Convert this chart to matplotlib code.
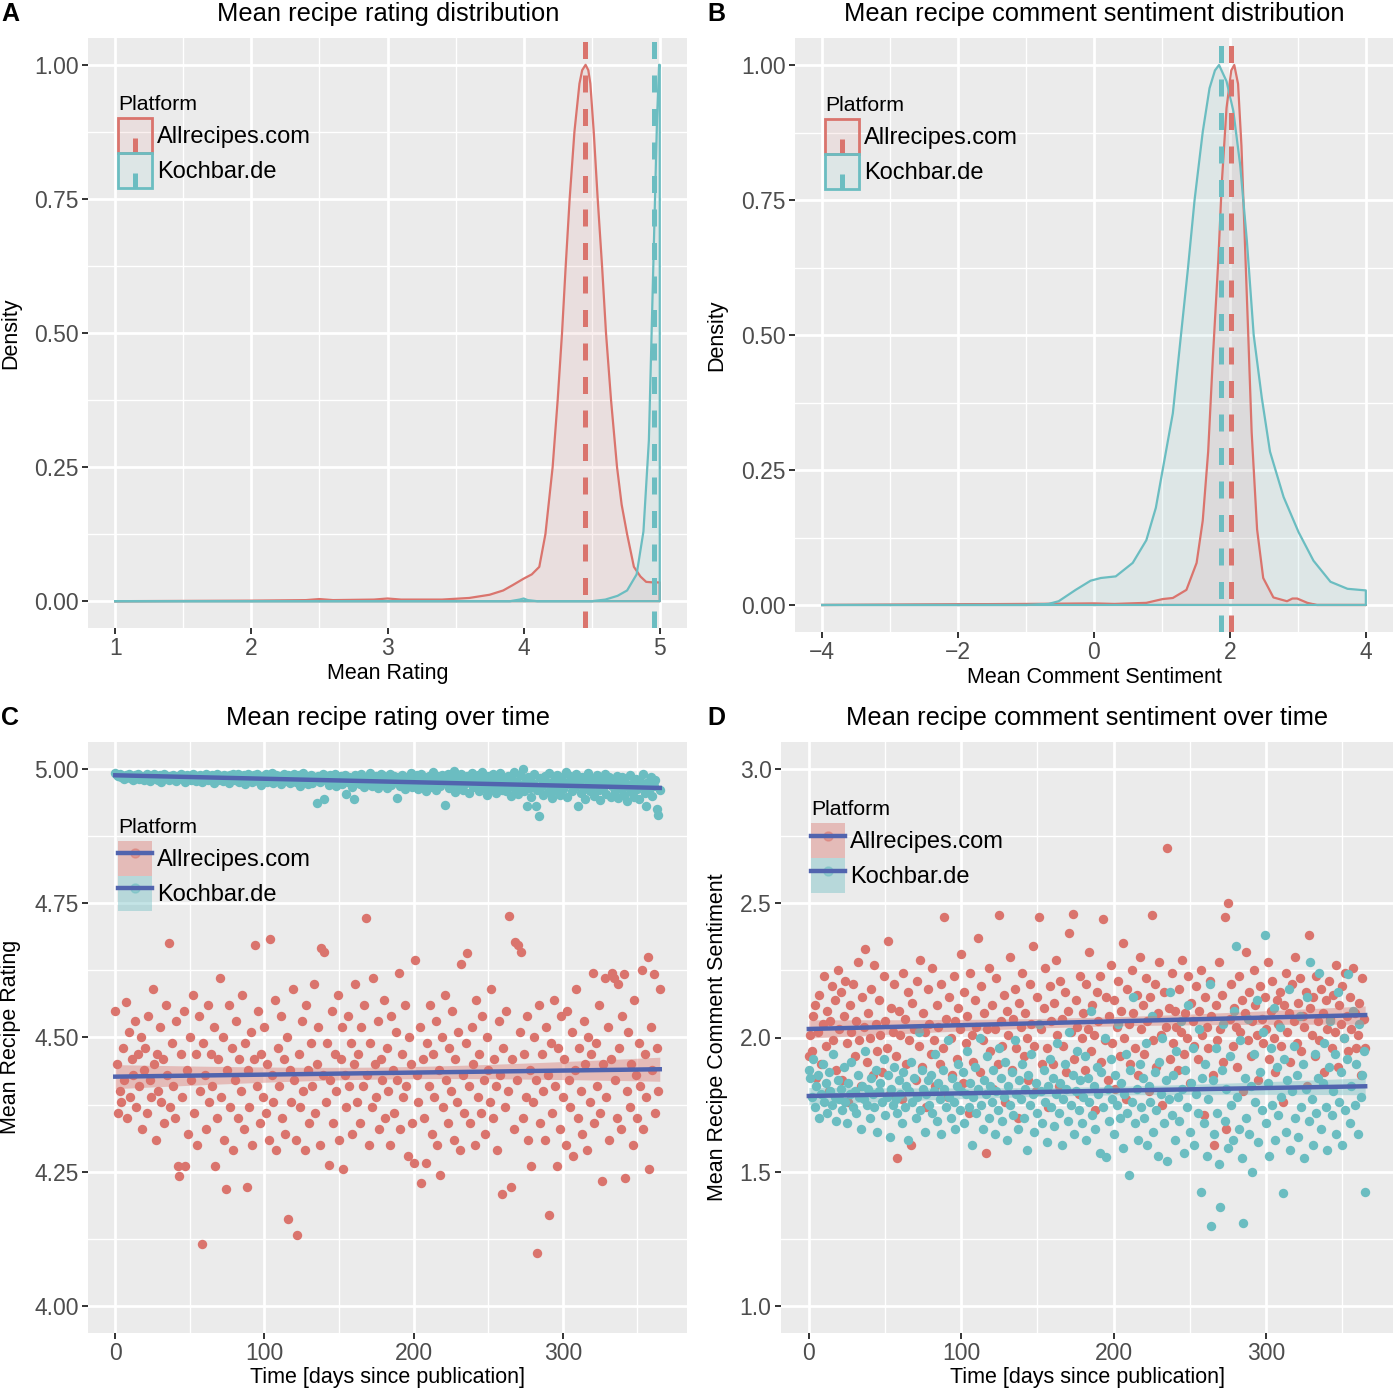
import numpy as np
import matplotlib
matplotlib.use("Agg")
import matplotlib.pyplot as plt
from matplotlib.patches import Patch, Rectangle
from matplotlib.lines import Line2D
from matplotlib.legend_handler import HandlerBase
from matplotlib.ticker import FixedLocator, FormatStrFormatter

plt.rcParams['font.family'] = ['Liberation Sans', 'DejaVu Sans']

platforms = ["Allrecipes.com", "Kochbar.de"]
col_all = "#DA746D"
col_koch = "#6BBDC1"
col_fit = "#5164AE"

# ---- panel A: density of mean rating (scaled) ----
rating_x_all = [1.0, 1.5, 2.0, 2.4, 2.5, 2.6, 2.9, 3.0, 3.1, 3.4, 3.6, 3.75, 3.85, 3.92, 4.0,
                4.06, 4.115, 4.16, 4.213, 4.25, 4.282, 4.309, 4.338, 4.373, 4.41, 4.43, 4.455,
                4.475, 4.49, 4.515, 4.544, 4.576, 4.605, 4.642, 4.686, 4.72, 4.76, 4.81, 4.858,
                4.9, 4.95, 5.0]
rating_y_all = [0.0, 0.0005, 0.001, 0.002, 0.004, 0.002, 0.003, 0.005, 0.003, 0.003, 0.006,
                0.012, 0.02, 0.03, 0.042, 0.05, 0.064, 0.125, 0.25, 0.375, 0.5, 0.625, 0.75,
                0.875, 0.965, 0.99, 1.0, 0.99, 0.965, 0.875, 0.75, 0.625, 0.5, 0.375, 0.25, 0.18,
                0.125, 0.064, 0.046, 0.036, 0.035, 0.035]
rating_x_koch = [1.0, 3.9, 3.97, 4.0, 4.03, 4.1, 4.5, 4.6, 4.69, 4.76, 4.83, 4.88, 4.92, 4.94,
                 4.96, 4.98, 4.995, 5.0]
rating_y_koch = [0.0, 0.0, 0.003, 0.005, 0.002, 0.0, 0.0, 0.003, 0.01, 0.02, 0.05, 0.13, 0.3,
                 0.5, 0.7, 0.9, 1.0, 1.0]
rating_mean = [4.452, 4.960]

# ---- panel B: density of mean comment sentiment (scaled) ----
sent_x_all = [-4.0, -2.5, -1.0, 0.0, 0.3, 0.77, 1.01, 1.16, 1.36, 1.51, 1.6, 1.68, 1.75, 1.83,
              1.88, 1.95, 2.02, 2.064, 2.12, 2.17, 2.22, 2.27, 2.32, 2.4, 2.49, 2.64, 2.84, 2.92,
              2.99, 3.14, 3.28, 4.0]
sent_y_all = [0.0, 0.001, 0.002, 0.003, 0.002, 0.004, 0.011, 0.013, 0.028, 0.078, 0.156, 0.284,
              0.46, 0.64, 0.78, 0.92, 0.99, 1.0, 0.965, 0.85, 0.674, 0.5, 0.32, 0.14, 0.05, 0.014,
              0.007, 0.012, 0.012, 0.004, 0.0, 0.0]
sent_x_koch = [-4.0, -1.0, -0.67, -0.52, -0.27, -0.05, 0.1, 0.32, 0.57, 0.77, 0.91, 1.01, 1.16,
               1.28, 1.38, 1.48, 1.6, 1.7, 1.78, 1.84, 1.95, 2.05, 2.15, 2.25, 2.35, 2.47, 2.59,
               2.79, 3.01, 3.23, 3.48, 3.73, 4.0]
sent_y_koch = [0.0, 0.0, 0.002, 0.007, 0.028, 0.045, 0.05, 0.053, 0.078, 0.12, 0.18, 0.25, 0.355,
               0.5, 0.62, 0.75, 0.876, 0.957, 0.99, 1.0, 0.97, 0.915, 0.816, 0.674, 0.5, 0.383,
               0.284, 0.2, 0.135, 0.082, 0.043, 0.03, 0.027]
sent_mean = [2.015, 1.868]

# ---- panels C / D: per-day means ----
days = list(range(366))

rating_day_koch = [
    4.993, 4.988, 4.986, 4.990, 4.984, 4.987, 4.982, 4.989, 4.985, 4.991, 4.983, 4.986, 4.980, 4.988, 4.984, 4.990, 4.981, 4.987, 4.985, 4.979,
    4.986, 4.990, 4.983, 4.978, 4.987, 4.984, 4.991, 4.982, 4.986, 4.980, 4.988, 4.976, 4.985, 4.990, 4.983, 4.987, 4.979, 4.986, 4.982, 4.989,
    4.984, 4.977, 4.987, 4.983, 4.990, 4.981, 4.985, 4.975, 4.988, 4.983, 4.986, 4.980, 4.991, 4.984, 4.978, 4.987, 4.982, 4.989, 4.976, 4.985,
    4.983, 4.990, 4.979, 4.986, 4.981, 4.988, 4.974, 4.985, 4.991, 4.980, 4.984, 4.987, 4.977, 4.989, 4.982, 4.986, 4.973, 4.988, 4.983, 4.990,
    4.979, 4.985, 4.991, 4.976, 4.987, 4.982, 4.989, 4.972, 4.984, 4.990, 4.980, 4.986, 4.975, 4.988, 4.983, 4.991, 4.978, 4.985, 4.970, 4.987,
    4.982, 4.990, 4.976, 4.986, 4.981, 4.993, 4.974, 4.984, 4.989, 4.979, 4.987, 4.971, 4.985, 4.991, 4.978, 4.983, 4.988, 4.973, 4.986, 4.980,
    4.990, 4.975, 4.984, 4.988, 4.969, 4.982, 4.992, 4.977, 4.986, 4.972, 4.983, 4.989, 4.974, 4.985, 4.980, 4.937, 4.987, 4.976, 4.983, 4.991,
    4.943, 4.979, 4.986, 4.970, 4.988, 4.981, 4.975, 4.990, 4.968, 4.984, 4.978, 4.987, 4.972, 4.982, 4.989, 4.954, 4.976, 4.985, 4.980, 4.966,
    4.944, 4.988, 4.977, 4.983, 4.971, 4.990, 4.979, 4.967, 4.985, 4.981, 4.974, 4.992, 4.969, 4.984, 4.978, 4.987, 4.965, 4.982, 4.990, 4.973,
    4.986, 4.976, 4.964, 4.983, 4.991, 4.970, 4.980, 4.987, 4.975, 4.946, 4.984, 4.968, 4.989, 4.978, 4.962, 4.985, 4.981, 4.972, 4.993, 4.967,
    4.983, 4.976, 4.988, 4.963, 4.980, 4.991, 4.970, 4.985, 4.958, 4.979, 4.987, 4.966, 4.982, 4.994, 4.972, 4.960, 4.986, 4.977, 4.969, 4.989,
    4.975, 4.932, 4.984, 4.991, 4.964, 4.980, 4.971, 4.996, 4.957, 4.985, 4.976, 4.968, 4.990, 4.961, 4.982, 4.973, 4.987, 4.955, 4.979, 4.992,
    4.966, 4.983, 4.970, 4.988, 4.959, 4.977, 4.995, 4.964, 4.981, 4.952, 4.986, 4.972, 4.963, 4.990, 4.978, 4.956, 4.984, 4.969, 4.993, 4.961,
    4.980, 4.974, 4.958, 4.987, 4.967, 4.950, 4.982, 4.994, 4.962, 4.976, 4.954, 4.988, 4.970, 5.000, 4.959, 4.979, 4.930, 4.985, 4.965, 4.948,
    4.973, 4.990, 4.930, 4.961, 4.913, 4.983, 4.968, 4.952, 4.987, 4.975, 4.957, 4.993, 4.966, 4.946, 4.980, 4.960, 4.988, 4.970, 4.951, 4.984,
    4.963, 4.976, 4.994, 4.948, 4.971, 4.986, 4.958, 4.980, 4.966, 4.990, 4.930, 4.973, 4.955, 4.985, 4.962, 4.944, 4.979, 4.992, 4.959, 4.969,
    4.983, 4.950, 4.974, 4.988, 4.961, 4.942, 4.977, 4.965, 4.991, 4.953, 4.972, 4.984, 4.947, 4.968, 4.980, 4.958, 4.987, 4.945, 4.970, 4.962,
    4.985, 4.951, 4.976, 4.940, 4.966, 4.989, 4.957, 4.973, 4.948, 4.982, 4.963, 4.944, 4.978, 4.968, 4.991, 4.955, 4.930, 4.975, 4.961, 4.984,
    4.950, 4.968, 4.979, 4.925, 4.915, 4.960]

rating_day_all = [
    4.550, 4.450, 4.360, 4.400, 4.380, 4.480, 4.420, 4.566, 4.350, 4.510, 4.390, 4.460, 4.430, 4.530, 4.370, 4.470, 4.410, 4.500, 4.330, 4.440,
    4.480, 4.360, 4.540, 4.420, 4.390, 4.590, 4.450, 4.310, 4.470, 4.400, 4.520, 4.380, 4.460, 4.340, 4.560, 4.430, 4.675, 4.370, 4.490, 4.410,
    4.350, 4.530, 4.260, 4.243, 4.470, 4.390, 4.550, 4.261, 4.440, 4.320, 4.500, 4.420, 4.580, 4.360, 4.470, 4.300, 4.540, 4.400, 4.116, 4.490,
    4.430, 4.330, 4.560, 4.380, 4.470, 4.410, 4.520, 4.260, 4.350, 4.460, 4.610, 4.390, 4.500, 4.310, 4.218, 4.440, 4.560, 4.370, 4.480, 4.290,
    4.420, 4.530, 4.350, 4.460, 4.400, 4.580, 4.330, 4.490, 4.221, 4.440, 4.370, 4.510, 4.300, 4.460, 4.673, 4.410, 4.550, 4.340, 4.470, 4.390,
    4.520, 4.360, 4.450, 4.310, 4.684, 4.430, 4.380, 4.570, 4.290, 4.480, 4.410, 4.540, 4.350, 4.460, 4.320, 4.500, 4.162, 4.440, 4.380, 4.590,
    4.420, 4.310, 4.132, 4.470, 4.370, 4.530, 4.400, 4.290, 4.560, 4.440, 4.340, 4.490, 4.410, 4.600, 4.360, 4.450, 4.520, 4.300, 4.667, 4.430,
    4.659, 4.380, 4.490, 4.262, 4.420, 4.550, 4.340, 4.470, 4.400, 4.580, 4.310, 4.460, 4.520, 4.255, 4.430, 4.370, 4.540, 4.410, 4.490, 4.320,
    4.450, 4.600, 4.380, 4.470, 4.340, 4.520, 4.410, 4.560, 4.722, 4.430, 4.300, 4.490, 4.370, 4.610, 4.450, 4.390, 4.530, 4.330, 4.460, 4.420,
    4.570, 4.350, 4.480, 4.400, 4.300, 4.540, 4.440, 4.360, 4.510, 4.420, 4.620, 4.330, 4.470, 4.390, 4.560, 4.410, 4.280, 4.500, 4.450, 4.340,
    4.266, 4.644, 4.430, 4.380, 4.520, 4.229, 4.460, 4.350, 4.266, 4.490, 4.410, 4.560, 4.320, 4.470, 4.390, 4.530, 4.300, 4.440, 4.245, 4.500,
    4.370, 4.580, 4.420, 4.340, 4.480, 4.400, 4.550, 4.310, 4.460, 4.380, 4.510, 4.290, 4.636, 4.430, 4.360, 4.490, 4.658, 4.410, 4.340, 4.520,
    4.450, 4.300, 4.570, 4.390, 4.470, 4.360, 4.540, 4.420, 4.320, 4.500, 4.440, 4.380, 4.590, 4.350, 4.460, 4.410, 4.290, 4.530, 4.430, 4.209,
    4.480, 4.370, 4.550, 4.400, 4.727, 4.222, 4.460, 4.330, 4.678, 4.420, 4.673, 4.510, 4.660, 4.350, 4.470, 4.390, 4.540, 4.310, 4.440, 4.260,
    4.380, 4.500, 4.420, 4.099, 4.560, 4.340, 4.470, 4.400, 4.310, 4.520, 4.430, 4.169, 4.490, 4.360, 4.570, 4.410, 4.260, 4.480, 4.330, 4.540,
    4.390, 4.460, 4.300, 4.550, 4.420, 4.370, 4.510, 4.280, 4.440, 4.590, 4.350, 4.480, 4.400, 4.320, 4.530, 4.450, 4.290, 4.500, 4.380, 4.470,
    4.620, 4.340, 4.490, 4.410, 4.560, 4.360, 4.232, 4.450, 4.610, 4.390, 4.520, 4.310, 4.460, 4.620, 4.610, 4.420, 4.350, 4.600, 4.480, 4.330,
    4.540, 4.618, 4.238, 4.400, 4.510, 4.370, 4.450, 4.300, 4.570, 4.430, 4.350, 4.490, 4.410, 4.625, 4.330, 4.470, 4.390, 4.650, 4.255, 4.520,
    4.440, 4.618, 4.360, 4.480, 4.400, 4.590]

sent_day_all = [
    1.930, 2.010, 1.950, 2.080, 2.120, 1.850, 2.020, 2.160, 1.900, 2.050, 2.230, 1.970, 2.100, 1.800, 2.060, 2.190, 1.990, 2.140, 1.880, 2.250,
    2.030, 2.170, 1.840, 2.080, 2.210, 1.980, 1.760, 2.120, 2.020, 2.200, 1.930, 2.060, 2.280, 1.990, 1.820, 2.150, 2.040, 2.330, 1.910, 2.090,
    2.000, 2.180, 1.860, 2.270, 2.050, 1.950, 2.140, 2.010, 1.870, 2.230, 2.060, 1.960, 2.360, 1.790, 2.110, 2.020, 2.200, 1.930, 1.550, 2.100,
    2.010, 1.770, 2.240, 2.070, 1.900, 2.170, 1.990, 1.600, 2.130, 2.030, 1.840, 2.210, 1.970, 2.290, 1.890, 2.090, 2.020, 1.740, 2.180, 2.050,
    1.940, 2.260, 1.990, 1.820, 2.120, 2.040, 1.900, 2.200, 1.960, 2.450, 2.070, 1.780, 2.150, 2.000, 1.860, 2.230, 2.060, 1.920, 2.110, 2.030,
    2.310, 1.830, 2.170, 1.980, 2.080, 1.720, 2.240, 2.010, 1.910, 2.140, 2.040, 2.370, 1.870, 2.190, 1.990, 2.090, 1.570, 2.030, 2.260, 1.950,
    2.120, 1.810, 2.030, 2.220, 1.900, 2.455, 2.060, 1.970, 2.160, 1.760, 2.100, 2.010, 2.300, 1.880, 2.070, 2.180, 1.960, 1.700, 2.130, 2.040,
    2.240, 1.930, 2.090, 2.000, 1.840, 2.200, 2.050, 2.340, 1.970, 1.800, 2.150, 2.450, 2.030, 1.900, 2.110, 2.260, 1.960, 1.740, 2.190, 2.060,
    1.900, 2.130, 2.290, 2.010, 1.820, 2.210, 2.070, 1.970, 2.170, 1.870, 2.100, 2.390, 2.020, 2.460, 1.920, 2.140, 2.040, 1.790, 2.230, 2.000,
    2.090, 1.880, 2.200, 2.030, 2.320, 1.950, 2.120, 2.010, 1.730, 2.170, 2.060, 2.230, 1.910, 2.440, 1.990, 2.150, 1.840, 2.080, 2.270, 1.980,
    2.140, 1.810, 2.040, 2.210, 1.930, 2.100, 2.350, 2.000, 1.770, 2.180, 2.050, 1.900, 2.250, 2.090, 1.960, 2.160, 1.860, 2.300, 2.030, 2.120,
    1.940, 2.220, 2.060, 1.800, 2.150, 2.455, 1.990, 2.200, 1.890, 2.090, 2.280, 2.010, 1.750, 2.170, 2.040, 2.705, 2.110, 1.920, 2.240, 1.980,
    2.100, 2.040, 1.880, 2.180, 2.020, 2.290, 1.940, 2.090, 2.000, 2.230, 1.830, 2.130, 2.060, 1.970, 2.190, 1.920, 2.100, 2.250, 2.010, 1.710,
    2.150, 2.040, 1.960, 2.210, 2.080, 1.860, 1.600, 2.120, 1.990, 2.280, 2.030, 2.160, 1.910, 2.450, 1.660, 2.500, 2.070, 2.200, 1.970, 2.110,
    2.040, 1.890, 2.230, 2.020, 2.140, 1.800, 2.090, 2.320, 1.990, 2.170, 1.930, 2.060, 2.250, 2.120, 2.010, 1.840, 2.190, 2.070, 1.980, 2.150,
    2.030, 2.280, 1.920, 2.100, 2.210, 2.000, 1.870, 2.140, 2.050, 2.170, 1.970, 1.760, 2.120, 2.240, 2.020, 2.090, 1.910, 2.200, 2.060, 2.300,
    1.980, 2.130, 2.220, 1.950, 2.080, 2.040, 2.170, 1.820, 2.380, 2.110, 2.010, 2.150, 1.930, 2.230, 2.060, 1.990, 2.180, 2.090, 1.870, 2.140,
    2.030, 2.210, 2.070, 1.960, 2.160, 2.020, 2.270, 1.890, 2.120, 2.050, 2.190, 2.000, 2.240, 2.080, 1.950, 2.150, 2.030, 2.260, 2.090, 1.960,
    2.010, 2.130, 1.860, 2.220, 2.070, 1.960]

sent_day_koch = [
    1.880, 1.850, 1.780, 1.920, 1.740, 1.820, 1.860, 1.700, 1.790, 1.900, 1.760, 1.830, 1.720, 1.870, 1.800, 1.750, 1.940, 1.780, 1.690, 1.840,
    1.770, 1.810, 1.730, 1.890, 1.760, 1.680, 1.830, 1.790, 1.910, 1.740, 1.800, 1.720, 1.860, 1.780, 1.660, 1.820, 1.770, 1.950, 1.750, 1.810,
    1.700, 1.850, 1.790, 1.740, 1.880, 1.650, 1.800, 1.830, 1.760, 1.920, 1.710, 1.780, 1.860, 1.630, 1.810, 1.750, 1.890, 1.770, 1.720, 1.840,
    1.790, 1.680, 1.870, 1.740, 1.820, 1.620, 1.800, 1.910, 1.760, 1.850, 1.700, 1.780, 2.020, 1.730, 1.880, 1.810, 1.650, 1.790, 1.840, 1.750,
    1.860, 1.720, 1.800, 1.940, 1.690, 1.830, 1.770, 1.640, 1.880, 1.810, 1.740, 1.990, 1.780, 1.700, 1.850, 1.760, 1.660, 1.820, 1.900, 1.730,
    1.800, 1.870, 1.680, 1.790, 1.950, 1.740, 1.830, 1.600, 1.780, 1.890, 1.720, 1.810, 2.000, 1.750, 1.660, 1.840, 1.790, 1.930, 1.700, 1.820,
    1.760, 1.880, 1.640, 1.800, 1.730, 1.960, 1.850, 1.690, 1.780, 1.910, 1.620, 1.820, 1.750, 1.870, 1.710, 1.990, 1.790, 1.660, 1.840, 1.770,
    1.900, 1.700, 1.810, 1.580, 1.860, 1.750, 1.940, 1.790, 1.650, 1.830, 1.720, 2.050, 1.800, 1.680, 1.880, 1.760, 1.610, 1.820, 1.920, 1.740,
    1.850, 1.670, 1.790, 1.980, 1.720, 1.830, 1.600, 1.770, 1.900, 1.810, 1.690, 2.020, 1.750, 1.860, 1.640, 1.800, 1.950, 1.730, 1.840, 1.680,
    1.780, 1.930, 1.620, 1.850, 1.760, 2.100, 1.710, 1.820, 1.660, 1.890, 1.790, 1.570, 1.870, 1.740, 2.000, 1.555, 1.810, 1.690, 1.920, 1.770,
    1.640, 1.860, 1.750, 2.050, 1.700, 1.830, 1.590, 1.790, 1.940, 1.720, 1.490, 1.880, 1.760, 2.150, 1.680, 1.810, 1.620, 1.900, 1.740, 1.850,
    1.700, 1.980, 1.600, 1.820, 1.760, 2.080, 1.650, 1.870, 1.730, 1.560, 1.910, 1.790, 2.000, 1.680, 1.840, 1.540, 1.770, 2.170, 1.710, 1.860,
    1.620, 1.950, 1.780, 1.690, 2.060, 1.810, 1.570, 1.880, 1.740, 2.120, 1.650, 1.830, 1.960, 1.600, 1.790, 1.720, 2.030, 1.425, 1.850, 1.680,
    1.900, 1.560, 1.770, 2.200, 1.300, 1.840, 1.640, 1.960, 1.720, 1.530, 1.370, 1.880, 2.050, 1.690, 1.810, 1.590, 1.930, 1.750, 1.620, 2.100,
    2.340, 1.780, 1.660, 1.990, 1.550, 1.310, 1.850, 1.700, 2.070, 1.640, 1.820, 1.500, 1.940, 1.760, 2.140, 1.610, 1.870, 1.730, 2.020, 2.380,
    1.680, 1.830, 1.560, 1.960, 1.750, 2.110, 1.620, 1.890, 1.710, 2.040, 1.780, 1.420, 1.920, 1.650, 1.840, 2.180, 1.580, 1.800, 1.970, 1.700,
    1.860, 1.630, 2.080, 1.740, 1.900, 1.550, 1.810, 2.150, 1.690, 2.280, 1.770, 1.600, 1.940, 1.720, 1.850, 2.240, 1.660, 1.830, 1.980, 1.740,
    1.580, 1.890, 2.060, 1.710, 1.800, 1.940, 1.640, 2.170, 1.760, 1.870, 1.600, 2.000, 1.730, 1.920, 2.235, 1.680, 1.820, 2.100, 1.750, 1.900,
    1.640, 2.050, 1.780, 1.860, 1.950, 1.425]


W, H = 1394, 1390
fig = plt.figure(figsize=(W / 100, H / 100), dpi=100)


def px_axes(left, top, right, bottom):
    return fig.add_axes([left / W, 1 - bottom / H, (right - left) / W, (bottom - top) / H])


def style(ax):
    ax.set_facecolor("#EBEBEB")
    for s in ax.spines.values():
        s.set_visible(False)
    ax.set_axisbelow(True)
    ax.grid(True, which="major", color="white", lw=2.0)
    ax.grid(True, which="minor", color="white", lw=1.0)
    ax.tick_params(which="major", length=4.3, width=1.4, color="#333333",
                   labelsize=16.5, labelcolor="#4D4D4D", pad=2.5)
    ax.tick_params(which="minor", length=0)


class DensityKey(HandlerBase):
    def create_artists(self, legend, orig, xd, yd, w, h, fontsize, trans):
        rect = Rectangle((-xd, -yd), w, h, facecolor=orig.get_facecolor(),
                         edgecolor=orig.get_edgecolor(), lw=2.0, transform=trans)
        xm = -xd + w / 2
        seg = Line2D([xm, xm], [-yd, -yd + h * 0.45], color=orig.get_edgecolor(),
                     lw=3.6, solid_capstyle="butt", transform=trans)
        return [rect, seg]


def density_panel(ax, xa, ya, xk, yk, means):
    for x, y, c in [(xa, ya, col_all), (xk, yk, col_koch)]:
        px = [x[0]] + list(x) + [x[-1]]
        py = [0.0] + list(y) + [0.0]
        ax.fill(px, py, facecolor=c, alpha=0.1, lw=0)
        ax.plot(px + [px[0]], py + [py[0]], color=c, lw=1.6)
    for m, c in zip(means, [col_all, col_koch]):
        ax.axvline(m, color=c, lw=3.6, dashes=(3.4, 3.3))
    handles = [Patch(facecolor=(*matplotlib.colors.to_rgb(c), 0.1), edgecolor=c)
               for c in [col_all, col_koch]]
    return handles


def legend(ax, handles, anchor, handler_map=None):
    lg = ax.legend(handles, platforms, title="Platform", loc="upper left",
                   bbox_to_anchor=anchor, frameon=False, fontsize=17,
                   title_fontsize=15.3, handlelength=1.44, handleheight=1.9,
                   handletextpad=0.22, labelspacing=0.0, borderpad=0,
                   borderaxespad=0, alignment="left", handler_map=handler_map)
    # small gap between the title and the keys, keys stay stacked
    lg._legend_box.sep = 3
    return lg


# ---- A ----
axA = px_axes(88, 38, 687, 628)
style(axA)
hA = density_panel(axA, rating_x_all, rating_y_all, rating_x_koch, rating_y_koch, rating_mean)
axA.set_xlim(0.8, 5.2)
axA.set_ylim(-0.05, 1.05)
axA.xaxis.set_major_locator(FixedLocator([1, 2, 3, 4, 5]))
axA.xaxis.set_minor_locator(FixedLocator([1.5, 2.5, 3.5, 4.5]))
axA.yaxis.set_major_locator(FixedLocator([0, 0.25, 0.5, 0.75, 1.0]))
axA.yaxis.set_minor_locator(FixedLocator([0.125, 0.375, 0.625, 0.875]))
axA.yaxis.set_major_formatter(FormatStrFormatter("%.2f"))
legend(axA, hA, (0.05, 0.903), {Patch: DensityKey()})

# ---- B ----
axB = px_axes(795, 38, 1393, 632)
style(axB)
hB = density_panel(axB, sent_x_all, sent_y_all, sent_x_koch, sent_y_koch, sent_mean)
axB.set_xlim(-4.4, 4.4)
axB.set_ylim(-0.05, 1.05)
axB.xaxis.set_major_locator(FixedLocator([-4, -2, 0, 2, 4]))
axB.xaxis.set_minor_locator(FixedLocator([-3, -1, 1, 3]))
axB.yaxis.set_major_locator(FixedLocator([0, 0.25, 0.5, 0.75, 1.0]))
axB.yaxis.set_minor_locator(FixedLocator([0.125, 0.375, 0.625, 0.875]))
axB.yaxis.set_major_formatter(FormatStrFormatter("%.2f"))
legend(axB, hB, (0.05, 0.902), {Patch: DensityKey()})


def lm_band(x, y):
    x = np.asarray(x, float)
    y = np.asarray(y, float)
    b, a = np.polyfit(x, y, 1)
    res = y - (a + b * x)
    n = len(x)
    s = np.sqrt(np.sum(res ** 2) / (n - 2))
    sxx = np.sum((x - x.mean()) ** 2)
    g = np.linspace(x.min(), x.max(), 100)
    fit = a + b * g
    se = s * np.sqrt(1 / n + (g - x.mean()) ** 2 / sxx)
    return g, fit, fit - 1.967 * se, fit + 1.967 * se


def time_panel(ax, ya, yk):
    for y, c in [(ya, col_all), (yk, col_koch)]:
        ax.scatter(days, y, s=46, color=c, linewidths=0, zorder=2)
    for y, c in [(ya, col_all), (yk, col_koch)]:
        g, fit, lo, hi = lm_band(days, y)
        ax.fill_between(g, lo, hi, color=c, alpha=0.4, lw=0, zorder=3)
        ax.plot(g, fit, color=col_fit, lw=3.2, zorder=4)
    ax.set_xlim(-18.25, 383.25)
    ax.xaxis.set_major_locator(FixedLocator([0, 100, 200, 300]))
    ax.xaxis.set_minor_locator(FixedLocator([50, 150, 250, 350]))
    handles = [(Patch(facecolor=c, alpha=0.4, lw=0),
                Line2D([], [], ls="", marker="o", ms=6.5, color=c, alpha=0.5),
                Line2D([], [], color=col_fit, lw=3.2))
               for c in [col_all, col_koch]]
    return handles


# ---- C ----
axC = px_axes(88, 742, 687, 1333)
style(axC)
hC = time_panel(axC, rating_day_all, rating_day_koch)
axC.set_ylim(3.95, 5.05)
axC.yaxis.set_major_locator(FixedLocator([4.0, 4.25, 4.5, 4.75, 5.0]))
axC.yaxis.set_minor_locator(FixedLocator([4.125, 4.375, 4.625, 4.875]))
axC.yaxis.set_major_formatter(FormatStrFormatter("%.2f"))
legend(axC, hC, (0.05, 0.872))

# ---- D ----
axD = px_axes(781, 742, 1393, 1333)
style(axD)
hD = time_panel(axD, sent_day_all, sent_day_koch)
axD.set_ylim(0.9, 3.1)
axD.yaxis.set_major_locator(FixedLocator([1.0, 1.5, 2.0, 2.5, 3.0]))
axD.yaxis.set_minor_locator(FixedLocator([1.25, 1.75, 2.25, 2.75]))
axD.yaxis.set_major_formatter(FormatStrFormatter("%.1f"))
legend(axD, hD, (0.049, 0.902))

# ---- titles, labels, panel letters ----
def ftext(x, y, s, **kw):
    fig.text(x / W, 1 - y / H, s, **kw)


title_kw = dict(ha="center", va="baseline", fontsize=18.4, color="black")
ftext(388, 21, "Mean recipe rating distribution", **title_kw)
ftext(1094, 21, "Mean recipe comment sentiment distribution", **title_kw)
ftext(388, 725, "Mean recipe rating over time", **title_kw)
ftext(1087, 725, "Mean recipe comment sentiment over time", **title_kw)

for letter, x, y in [("A", 1, 21), ("B", 707, 21), ("C", 1, 725), ("D", 707, 725)]:
    ftext(x, y, letter, ha="left", va="baseline", fontsize=18, fontweight="bold")

lab_kw = dict(ha="center", va="center", fontsize=15.5, color="black")
ftext(388, 673, "Mean Rating", **lab_kw)
ftext(1094, 678, "Mean Comment Sentiment", **lab_kw)
ftext(388, 1378, "Time [days since publication]", **lab_kw)
ftext(1087, 1378, "Time [days since publication]", **lab_kw)
ftext(11, 333, "Density", rotation=90, **lab_kw)
ftext(717, 335, "Density", rotation=90, **lab_kw)
ftext(11, 1037, "Mean Recipe Rating", rotation=90, **lab_kw)
ftext(717, 1037, "Mean Recipe Comment Sentiment", rotation=90, **lab_kw)

fig.savefig("out.png", dpi=100)
